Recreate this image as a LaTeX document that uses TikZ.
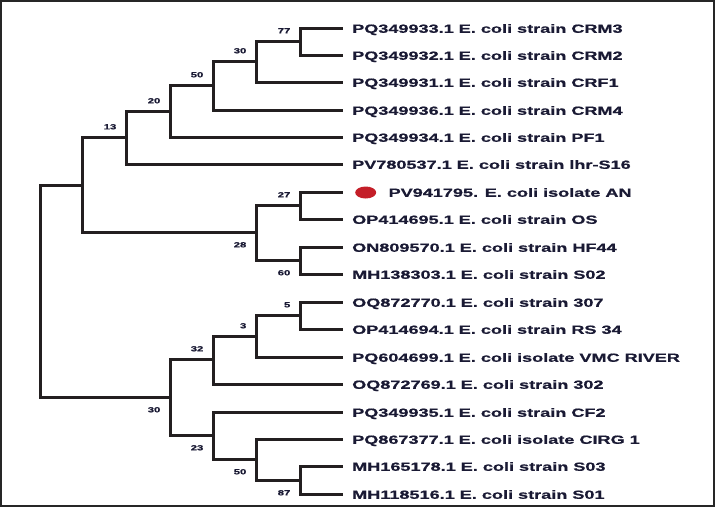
\documentclass[tikz,border=0pt]{standalone}
\usepackage{fontspec}
\newfontfamily\leaffont[FakeStretch=1.52, BoldFeatures={FakeBold=0.8}]{Liberation Sans}
\usepackage{tikz}
\usetikzlibrary{shapes.geometric, positioning}
\definecolor{treeline}{RGB}{35,31,32}
\definecolor{leaftext}{RGB}{26,26,52}
\definecolor{dotred}{RGB}{196,30,40}
\tikzset{twig/.style={draw=treeline, line width=3pt}}
\tikzset{twigbold/.style={draw=treeline, line width=3.8pt}}
\tikzstyle{leaf} = [anchor=west, inner xsep=9pt, inner ysep=0pt, text height=8.6pt, text depth=0pt, text=leaftext, font=\leaffont\bfseries\fontsize{11.9}{12}\selectfont]
\tikzstyle{boot} = [inner sep=0pt, text height=5.6pt, text depth=0pt, text=leaftext, font=\leaffont\bfseries\fontsize{7.4}{8}\selectfont]
\tikzstyle{dotmark} = [ellipse, minimum width=21pt, minimum height=12pt, inner sep=0pt, fill=dotred]

\begin{document}
\begin{tikzpicture}[x=1pt, y=-1pt]
\useasboundingbox (0,0) rectangle (715,507);
\draw [line width=1.2pt, draw=black!85] (1,1) rectangle (714,506);

% Leaves
\node (l1) [leaf] at (343,28.5) {PQ349933.1 E. coli strain CRM3};
\node (l2) [leaf] at (343,55.5) {PQ349932.1 E. coli strain CRM2};
\node (l3) [leaf] at (343,82.5) {PQ349931.1 E. coli strain CRF1};
\node (l4) [leaf] at (343,110.5) {PQ349936.1 E. coli strain CRM4};
\node (l5) [leaf] at (343,137.5) {PQ349934.1 E. coli strain PF1};
\node (l6) [leaf] at (343,164.5) {PV780537.1 E. coli strain lhr-S16};
\coordinate (t7) at (343,192.5);
\node (dot7) [dotmark, right=12pt of t7] {};
\node (l7) [leaf, right=3pt of dot7] {PV941795. E. coli isolate AN};
\node (l8) [leaf] at (343,219.5) {OP414695.1 E. coli strain OS};
\node (l9) [leaf] at (343,247.5) {ON809570.1 E. coli strain HF44};
\node (l10) [leaf] at (343,274.5) {MH138303.1 E. coli strain S02};
\node (l11) [leaf] at (343,302.5) {OQ872770.1 E. coli strain 307};
\node (l12) [leaf] at (343,329.5) {OP414694.1 E. coli strain RS 34};
\node (l13) [leaf] at (343,357.5) {PQ604699.1 E. coli isolate VMC RIVER};
\node (l14) [leaf] at (343,384.5) {OQ872769.1 E. coli strain 302};
\node (l15) [leaf] at (343,412.5) {PQ349935.1 E. coli strain CF2};
\node (l16) [leaf] at (343,439.5) {PQ867377.1 E. coli isolate CIRG 1};
\node (l17) [leaf] at (343,466.5) {MH165178.1 E. coli strain S03};
\node (l18) [leaf] at (343,494.5) {MH118516.1 E. coli strain S01};

% Inner nodes
\coordinate (n77) at (300.5,41.5);
\coordinate (n30a) at (256.5,61.5);
\coordinate (n50a) at (213.5,85.5);
\coordinate (n20) at (170.5,111.5);
\coordinate (n13) at (126.5,137.5);
\coordinate (n27) at (300.5,205.5);
\coordinate (n60) at (300.5,260.5);
\coordinate (n28) at (256.5,232.5);
\coordinate (nup) at (82.5,185.5);
\coordinate (n5) at (300.5,315.5);
\coordinate (n3) at (256.5,336.5);
\coordinate (n32) at (213.5,359.5);
\coordinate (n87) at (300.5,480.5);
\coordinate (n50b) at (256.5,459.5);
\coordinate (n23) at (213.5,435.5);
\coordinate (n30b) at (170.5,397.5);
\coordinate (root) at (40.5,291.5);

% Branches
\draw [twig] (n77) |- (l1.west);
\draw [twig] (n77) |- (l2.west);
\draw [twig] (n30a) |- (n77);
\draw [twigbold] (n30a) |- (l3.west);
\draw [twig] (n50a) |- (n30a);
\draw [twig] (n50a) |- (l4.west);
\draw [twig] (n20) |- (n50a);
\draw [twigbold] (n20) |- (l5.west);
\draw [twig] (n13) |- (n20);
\draw [twig] (n13) |- (l6.west);
\draw [twig] (n27) |- (t7);
\draw [twig] (n27) |- (l8.west);
\draw [twig] (n60) |- (l9.west);
\draw [twig] (n60) |- (l10.west);
\draw [twig] (n28) |- (n27);
\draw [twig] (n28) |- (n60);
\draw [twig] (nup) |- (n13);
\draw [twig] (nup) |- (n28);
\draw [twig] (n5) |- (l11.west);
\draw [twigbold] (n5) |- (l12.west);
\draw [twigbold] (n3) |- (n5);
\draw [twig] (n3) |- (l13.west);
\draw [twigbold] (n32) |- (n3);
\draw [twigbold] (n32) |- (l14.west);
\draw [twig] (n87) |- (l17.west);
\draw [twigbold] (n87) |- (l18.west);
\draw [twig] (n50b) |- (l16.west);
\draw [twig] (n50b) |- (n87);
\draw [twig] (n23) |- (l15.west);
\draw [twigbold] (n23) |- (n50b);
\draw [twigbold] (n30b) |- (n32);
\draw [twigbold] (n30b) |- (n23);
\draw [twig] (root) |- (nup);
\draw [twigbold] (root) |- (n30b);

% Bootstrap values
\node (b77) [boot, above left=8pt and 10pt of n77] {77};
\node (b30a) [boot, above left=8pt and 10pt of n30a] {30};
\node (b50a) [boot, above left=8pt and 10pt of n50a] {50};
\node (b20) [boot, above left=8pt and 10pt of n20] {20};
\node (b13) [boot, above left=8pt and 10pt of n13] {13};
\node (b27) [boot, above left=8pt and 10pt of n27] {27};
\node (b28) [boot, below left=9pt and 10pt of n28] {28};
\node (b60) [boot, below left=9pt and 10pt of n60] {60};
\node (b5) [boot, above left=8pt and 10pt of n5] {5};
\node (b3) [boot, above left=8pt and 10pt of n3] {3};
\node (b32) [boot, above left=8pt and 10pt of n32] {32};
\node (b30b) [boot, below left=9pt and 10pt of n30b] {30};
\node (b23) [boot, below left=9pt and 10pt of n23] {23};
\node (b50b) [boot, below left=9pt and 10pt of n50b] {50};
\node (b87) [boot, below left=9pt and 10pt of n87] {87};

\end{tikzpicture}
\end{document}
